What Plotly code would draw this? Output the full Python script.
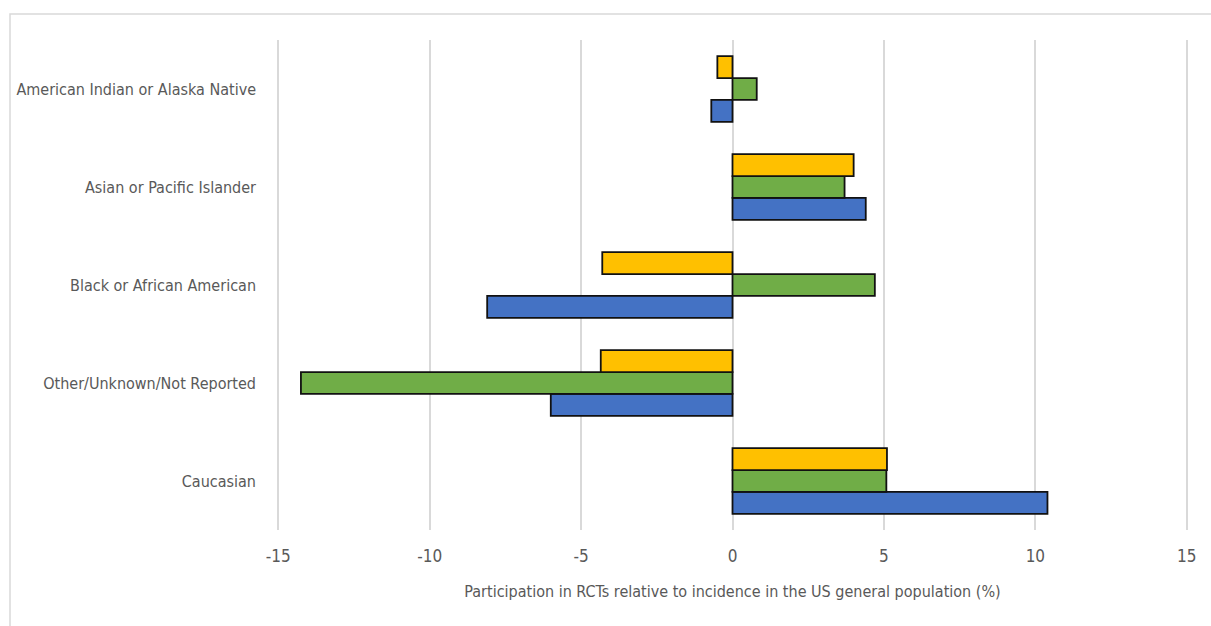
import plotly.graph_objects as go

# Categories listed bottom-to-top as they appear on the y axis
categories = [
    "Caucasian",
    "Other/Unknown/Not Reported",
    "Black or African American",
    "Asian or Pacific Islander",
    "American Indian or Alaska Native",
]

# Participation relative to incidence (%), one list per series
blue_values = [10.4, -6.0, -8.1, 4.4, -0.7]
green_values = [5.08, -14.25, 4.7, 3.7, 0.8]
yellow_values = [5.1, -4.35, -4.3, 4.0, -0.5]

x_ticks = [-15, -10, -5, 0, 5, 10, 15]

FONT = "Liberation Sans Narrow, DejaVu Sans Condensed, Arial Narrow, sans-serif"
TEXT_COLOR = "#595959"
GRID_COLOR = "#d9d9d9"

fig = go.Figure()
series = [
    ("series_1", blue_values, "#4472C4"),
    ("series_2", green_values, "#70AD47"),
    ("series_3", yellow_values, "#FFC000"),
]
for name, vals, color in series:
    fig.add_trace(
        go.Bar(
            y=categories,
            x=vals,
            name=name,
            orientation="h",
            marker=dict(color=color, line=dict(color="#111111", width=1.8)),
        )
    )

fig.update_layout(
    width=1211,
    height=626,
    barmode="group",
    bargap=0.33,
    bargroupgap=0,
    showlegend=False,
    plot_bgcolor="white",
    paper_bgcolor="white",
    margin=dict(l=277, r=23, t=40, b=96, autoexpand=False),
    font=dict(family=FONT, color=TEXT_COLOR, size=16),
    xaxis=dict(
        range=[-15.04, 15.04],
        tickvals=x_ticks,
        ticktext=[str(t) for t in x_ticks],
        showgrid=True,
        gridcolor=GRID_COLOR,
        gridwidth=1.5,
        zeroline=True,
        zerolinecolor=GRID_COLOR,
        zerolinewidth=2,
        showline=False,
        ticks="",
        ticklabelstandoff=14,
        automargin=False,
        tickfont=dict(size=17, family=FONT, color=TEXT_COLOR),
        title=dict(
            text="Participation in RCTs relative to incidence in the US general population (%)",
            font=dict(size=16, family=FONT, color=TEXT_COLOR),
            standoff=20,
        ),
    ),
    yaxis=dict(
        categoryorder="array",
        categoryarray=categories,
        showgrid=False,
        zeroline=False,
        showline=False,
        ticks="",
        ticklabelstandoff=20,
        automargin=False,
        tickfont=dict(size=16, family=FONT, color=TEXT_COLOR),
    ),
    shapes=[
        # light chart frame
        dict(
            type="rect",
            xref="paper",
            yref="paper",
            x0=(10 - 277) / 911,
            x1=1.2,
            y0=-0.5,
            y1=(530 - 14) / 490,
            line=dict(color=GRID_COLOR, width=1.5),
            layer="below",
        )
    ],
)

fig.write_html("out.html")
